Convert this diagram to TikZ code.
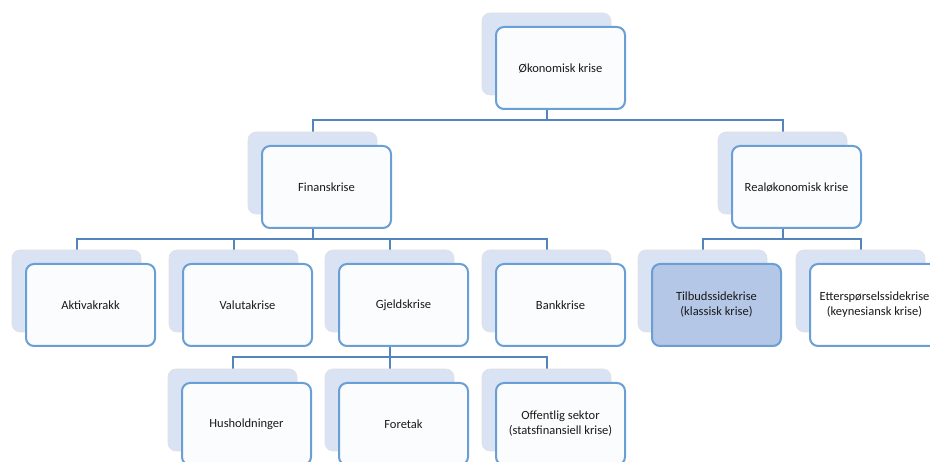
\documentclass[tikz,border=0pt]{standalone}
\usepackage{fontspec}
\setmainfont{Carlito}
\usepackage{tikz}
\usepackage{xcolor}
\usetikzlibrary{backgrounds}

\definecolor{ramme}{HTML}{6A9FD6}
\definecolor{linje}{HTML}{5484BE}
\definecolor{skygge}{HTML}{DAE3F3}
\definecolor{valgt}{HTML}{B4C7E7}
\definecolor{tekst}{HTML}{1A1A1A}

\begin{document}
\begin{tikzpicture}[x=1pt, y=-1pt,
	bak/.style={rectangle, rounded corners=8pt, fill=skygge, draw=black!12, line width=0.6pt, minimum width=129pt, minimum height=82pt, inner sep=0pt},
	boks/.style={rectangle, rounded corners=8pt, fill=skygge!12, draw=ramme, line width=2pt, minimum width=129pt, minimum height=82pt, inner sep=2pt, align=center, text=tekst, font=\fontsize{12.5}{15}\selectfont},
	kant/.style={draw=linje, line width=2pt}
	]
	\useasboundingbox (0,0) rectangle (930,462);

	%Toppnivaa
	\node[bak] (rotb) at (546.5,54) {};
	\node[boks] (rot) at ([shift={(14,14)}]rotb) {Økonomisk krise};

	%Andre nivaa
	\node[bak] (finb) at (312.5,173) {};
	\node[boks] (fin) at ([shift={(14,14)}]finb) {Finanskrise};
	\node[bak] (realb) at (782.5,173) {};
	\node[boks] (real) at ([shift={(14,14)}]realb) {Realøkonomisk krise};

	%Tredje nivaa
	\node[bak] (aktb) at (76.5,291) {};
	\node[boks] (akt) at ([shift={(14,14)}]aktb) {Aktivakrakk};
	\node[bak] (valb) at (233.5,291) {};
	\node[boks] (val) at ([shift={(14,14)}]valb) {Valutakrise};
	\node[bak] (gjeb) at (389.5,291) {};
	\node[boks] (gje) at ([shift={(14,14)}]gjeb) {Gjeldskrise};
	\node[bak] (bankb) at (546.5,291) {};
	\node[boks] (bank) at ([shift={(14,14)}]bankb) {Bankkrise};
	\node[bak] (tilb) at (702.5,291) {};
	\node[boks, fill=valgt] (til) at ([shift={(14,14)}]tilb) {Tilbudssidekrise\\(klassisk krise)};
	\node[bak] (ettb) at (860.5,291) {};
	\node[boks, fill=white] (ett) at ([shift={(14,14)}]ettb) {Etterspørselssidekrise\\(keynesiansk krise)};

	%Fjerde nivaa
	\node[bak] (husb) at (232.5,410) {};
	\node[boks] (hus) at ([shift={(14,14)}]husb) {Husholdninger};
	\node[bak] (forb) at (389.5,410) {};
	\node[boks] (for) at ([shift={(14,14)}]forb) {Foretak};
	\node[bak] (offb) at (546.5,410) {};
	\node[boks] (off) at ([shift={(14,14)}]offb) {Offentlig sektor\\(statsfinansiell krise)};

	%Linjer
	\begin{pgfonlayer}{background}
		\draw[kant] (rotb.south) -- ++(0,25) -| (finb.north);
		\draw[kant] (rotb.south) -- ++(0,25) -| (realb.north);

		\draw[kant] (finb.south) -- ++(0,25) -| (aktb.north);
		\draw[kant] (finb.south) -- ++(0,25) -| (valb.north);
		\draw[kant] (finb.south) -- ++(0,25) -| (gjeb.north);
		\draw[kant] (finb.south) -- ++(0,25) -| (bankb.north);

		\draw[kant] (realb.south) -- ++(0,25) -| (tilb.north);
		\draw[kant] (realb.south) -- ++(0,25) -| (ettb.north);

		\draw[kant] (gjeb.south) -- ++(0,25) -| (husb.north);
		\draw[kant] (gjeb.south) -- ++(0,25) -| (forb.north);
		\draw[kant] (gjeb.south) -- ++(0,25) -| (offb.north);
	\end{pgfonlayer}
\end{tikzpicture}
\end{document}
